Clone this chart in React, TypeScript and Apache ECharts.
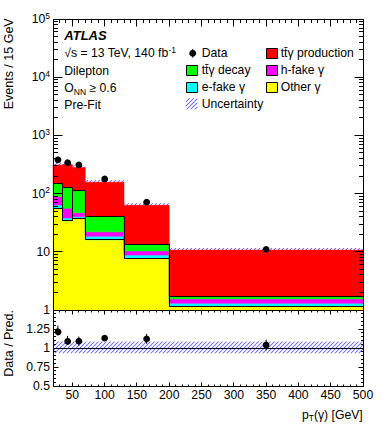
import React, { useEffect, useRef } from 'react';
import * as echarts from 'echarts';

const FONT = '"Liberation Sans", Arial, Helvetica, sans-serif';
const HATCH = '#5a5aff';

// ---- data ----
const binEdges = [20, 35, 50, 70, 130, 200, 500];
const otherGamma = [56, 34, 37.6, 16, 7.7, 1.16];
const eFakeGamma = [7.7, 3.9, 2.4, 2.5, 1.1, 0.14];
const hFakeGamma = [24.8, 18.3, 7.0, 3.5, 1.5, 0.25];
const ttgDecay = [61.5, 72, 65, 19, 3.2, 0.14];
const ttgProduction = [160, 187, 168, 116, 49.5, 9.0];
const dataValues = [393, 354, 310, 178, 71, 11.0];
const dataRelErrors = [0.05, 0.055, 0.055, 0.03, 0.06, 0.065];
const uncertaintyUp = [0.086, 0.086, 0.086, 0.086, 0.086, 0.086];
const uncertaintyDown = [0.068, 0.068, 0.068, 0.068, 0.068, 0.068];
const ratioValues = [1.23, 1.1, 1.09, 1.13, 1.12, 1.04];
const ratioErrors = [0.065, 0.06, 0.06, 0.035, 0.065, 0.07];
const xLabelValues = [50, 100, 150, 200, 250, 300, 350, 400, 450, 500];
const ratioLabelValues = [0.5, 0.75, 1, 1.25];
const stackNames = ['Other γ', 'e-fake γ', 'h-fake γ', 'tt̄γ decay', 'tt̄γ production'];
const stackColors = ['#ffff00', '#00ffff', '#ff00ff', '#00ff00', '#ff0000'];

const X_MIN = 20, X_MAX = 500;
const Y_MIN = 1, Y_MAX = 100000;
const R_MIN = 0.5, R_MAX = 1.5;

const sn = (v: number) => Math.round(v - 0.5) + 0.5;
const line = (x1: number, y1: number, x2: number, y2: number, stroke = '#000', lw = 1) => ({
  type: 'line', shape: { x1, y1, x2, y2 }, style: { stroke, lineWidth: lw },
});
// hatch "////" drawn as thin filled parallelograms, clipped to the rectangle
function hatch(x0: number, y0: number, x1: number, y1: number, s: number) {
  const out: any[] = [];
  const w = 0.6;
  const start = Math.ceil((x0 + y0) / s) * s;
  for (let c = start; c <= x1 + y1; c += s) {
    const xa = Math.max(x0, c - y1), xb = Math.min(x1, c - y0);
    if (xb > xa) {
      const ya = c - xa, yb = c - xb;
      out.push({
        type: 'polygon',
        shape: { points: [[xa - w, ya], [xa + w, ya], [xb + w, yb], [xb - w, yb]] },
        style: { fill: HATCH },
      });
    }
  }
  return out;
}

function buildOption() {
  const n = binEdges.length - 1;
  const binLow = binEdges.slice(0, -1);
  const binHigh = binEdges.slice(1);
  const binCenter = binLow.map((l, i) => (l + binHigh[i]) / 2);
  const comps = [otherGamma, eFakeGamma, hFakeGamma, ttgDecay, ttgProduction];
  const cum: number[][] = [];
  comps.forEach((arr, k) => cum.push(arr.map((v, i) => (k ? cum[k - 1][i] : 0) + v)));
  const prediction = cum[4];

  const bandMain = {
    type: 'custom', xAxisIndex: 0, yAxisIndex: 0, silent: true,
    encode: { x: [0, 1], y: [2, 3] },
    data: binLow.map((x0, i) => [x0, binHigh[i], prediction[i] * (1 - uncertaintyDown[i]), prediction[i] * (1 + uncertaintyUp[i])]),
    renderItem: (p: any, api: any) => {
      const a = api.coord([api.value(0), api.value(3)]);
      const b = api.coord([api.value(1), api.value(2)]);
      return { type: 'group', children: hatch(a[0], a[1], b[0], b[1], 4) };
    },
  };

  const stackSeries = comps.map((_, k) => ({
    type: 'custom', name: stackNames[k], xAxisIndex: 0, yAxisIndex: 0, silent: true,
    encode: { x: [0, 1], y: [2, 3] },
    data: binLow.map((x0, i) => [x0, binHigh[i], k ? cum[k - 1][i] : Y_MIN, cum[k][i]]),
    renderItem: (p: any, api: any) => {
      if (p.dataIndexInside !== 0) return null;
      const len = p.dataInsideLength;
      const top: number[][] = [], bottom: number[][] = [];
      for (let i = 0; i < len; i++) {
        const x0 = api.value(0, i), x1 = api.value(1, i);
        const lo = Math.max(api.value(2, i), Y_MIN), hi = api.value(3, i);
        top.push(api.coord([x0, hi]), api.coord([x1, hi]));
        bottom.push(api.coord([x0, lo]), api.coord([x1, lo]));
      }
      return { type: 'polygon', shape: { points: top.concat(bottom.reverse()) }, style: { fill: stackColors[k], stroke: stackColors[k], lineWidth: 0.5 } };
    },
  }));

  const outline = {
    type: 'custom', xAxisIndex: 0, yAxisIndex: 0, silent: true,
    data: [[X_MIN, Y_MIN]],
    renderItem: (p: any, api: any) => {
      const green = cum[3], yellow = cum[0];
      const ch: any[] = [];
      for (let i = 0; i < n; i++) {
        for (const v of [green[i], yellow[i]]) {
          const a = api.coord([binEdges[i], v]), b = api.coord([binEdges[i + 1], v]);
          ch.push(line(a[0], sn(a[1]), b[0], sn(b[1])));
        }
      }
      for (let j = 0; j <= n; j++) {
        const adj = [j - 1, j].filter((i) => i >= 0 && i < n);
        const tv = Math.max(...adj.map((i) => green[i]));
        const bv = Math.max(Y_MIN, Math.min(...adj.map((i) => yellow[i])));
        const a = api.coord([binEdges[j], tv]), b = api.coord([binEdges[j], bv]);
        ch.push(line(sn(a[0]), a[1], sn(b[0]), b[1]));
      }
      return { type: 'group', children: ch };
    },
  };

  const pointsRender = (p: any, api: any) => {
    const c = api.coord([api.value(0), api.value(1)]);
    const lo = api.coord([api.value(0), api.value(2)]);
    const hi = api.coord([api.value(0), api.value(3)]);
    return {
      type: 'group', children: [
        line(c[0], lo[1], c[0], hi[1]),
        { type: 'circle', shape: { cx: c[0], cy: c[1], r: 3.4 }, style: { fill: '#000' } },
      ],
    };
  };

  const dataMain = {
    type: 'custom', name: 'Data', xAxisIndex: 0, yAxisIndex: 0, silent: true,
    encode: { x: 0, y: [1, 2, 3] },
    data: binCenter.map((c, i) => [c, dataValues[i], dataValues[i] * (1 - dataRelErrors[i]), dataValues[i] * (1 + dataRelErrors[i])]),
    renderItem: pointsRender,
  };

  const frame = (g: number, yMin: number, yMax: number, xt: { v: number; len: number }[], yt: { v: number; len: number }[], bottom: boolean) => ({
    type: 'custom', xAxisIndex: g, yAxisIndex: g, silent: true,
    data: [[X_MIN, yMin]],
    renderItem: (p: any, api: any) => {
      const tl = api.coord([X_MIN, yMax]), br = api.coord([X_MAX, yMin]);
      const L = sn(tl[0]), T = sn(tl[1]), R = sn(br[0]), B = sn(br[1]);
      const ch: any[] = [];
      for (const t of xt) {
        const px = sn(api.coord([t.v, yMin])[0]);
        ch.push(line(px, T, px, T + t.len));
        if (bottom) ch.push(line(px, B, px, B - t.len));
      }
      for (const t of yt) {
        const py = sn(api.coord([X_MIN, t.v])[1]);
        ch.push(line(L, py, L + t.len, py));
        ch.push(line(R, py, R - t.len, py));
      }
      ch.push({ type: 'rect', shape: { x: L, y: T, width: R - L, height: B - T }, style: { fill: 'none', stroke: '#000', lineWidth: 1 } });
      return { type: 'group', children: ch };
    },
  });

  const xTicksMain: { v: number; len: number }[] = [];
  const xTicksRatio: { v: number; len: number }[] = [];
  for (let v = X_MIN; v <= X_MAX; v += 10) {
    xTicksMain.push({ v, len: v % 50 === 0 ? 7 : 3.5 });
    xTicksRatio.push({ v, len: v % 50 === 0 ? 4 : 2 });
  }
  const yTicksLog: { v: number; len: number }[] = [];
  for (let k = 0; k < 5; k++) for (let m = 1; m <= 9; m++) yTicksLog.push({ v: m * Math.pow(10, k), len: m === 1 ? 9 : 4.5 });
  yTicksLog.push({ v: Y_MAX, len: 9 });
  const yTicksRatio: { v: number; len: number }[] = [];
  for (let i = 0; i <= 20; i++) yTicksRatio.push({ v: R_MIN + i * 0.05, len: i % 5 === 0 ? 5 : 2.5 });

  const bandRatio = {
    type: 'custom', xAxisIndex: 1, yAxisIndex: 1, silent: true,
    encode: { x: [0, 1], y: [2, 3] },
    data: binLow.map((x0, i) => [x0, binHigh[i], 1 - uncertaintyDown[i], 1 + uncertaintyUp[i]]),
    renderItem: (p: any, api: any) => {
      const a = api.coord([api.value(0), api.value(3)]);
      const b = api.coord([api.value(1), api.value(2)]);
      return { type: 'group', children: hatch(a[0], a[1], b[0], b[1], 4) };
    },
  };
  const unity = {
    type: 'custom', xAxisIndex: 1, yAxisIndex: 1, silent: true,
    data: [[X_MIN, X_MAX, 1]],
    renderItem: (p: any, api: any) => {
      const a = api.coord([api.value(0), api.value(2)]), b = api.coord([api.value(1), api.value(2)]);
      return line(a[0], sn(a[1]), b[0], sn(b[1]));
    },
  };
  const dataRatio = {
    type: 'custom', xAxisIndex: 1, yAxisIndex: 1, silent: true,
    encode: { x: 0, y: [1, 2, 3] },
    data: binCenter.map((c, i) => [c, ratioValues[i], ratioValues[i] - ratioErrors[i], ratioValues[i] + ratioErrors[i]]),
    renderItem: pointsRender,
  };

  const baseRich = {
    a: { fontSize: 12.2, lineHeight: 16, fontFamily: FONT, color: '#000' },
    s: { fontSize: 8.5, lineHeight: 9, verticalAlign: 'top', fontFamily: FONT, color: '#000' },
    b: { fontSize: 8.5, lineHeight: 9, verticalAlign: 'bottom', fontFamily: FONT, color: '#000' },
  };
  const txt = (x: number, y: number, text: string, extra: any = {}) => ({
    type: 'text', x, y,
    style: { text, fill: '#000', fontSize: 12.2, fontFamily: FONT, align: 'left', verticalAlign: 'middle', ...extra },
  });
  const richTxt = (x: number, y: number, text: string, extra: any = {}) => ({
    type: 'text', x, y,
    style: { text, fill: '#000', fontFamily: FONT, align: 'left', verticalAlign: 'middle', rich: baseRich, ...extra },
  });

  const rows = [53.3, 70.3, 87.2, 103.8];
  const box = (x: number, yc: number, color: string) => ({
    type: 'rect', shape: { x: x + 0.5, y: Math.round(yc - 5.35) + 0.5, width: 11, height: 10 },
    style: { fill: color, stroke: '#000', lineWidth: 1 },
  });
  const c1 = 186, c2 = 266, t1 = 201.7, t2 = 280.7;
  const yTitle = txt(8.5, 18.3, 'Events / 15 GeV', { fontSize: 12.5, align: 'right', verticalAlign: 'middle' });
  const rTitle = txt(8.5, 310, 'Data / Pred.', { fontSize: 12.5, align: 'right', verticalAlign: 'middle' });
  (yTitle as any).rotation = Math.PI / 2;
  (rTitle as any).rotation = Math.PI / 2;
  const graphic: any[] = [
    txt(64.3, 35, 'ATLAS', { fontWeight: 'bold', fontStyle: 'italic', fontSize: 13 }),
    richTxt(64.3, 53, '{a|√s = 13 TeV, 140 fb}{s|-1}'),
    txt(64.3, 71, 'Dilepton'),
    richTxt(64.3, 88, '{a|O}{b|NN}{a| ≥ 0.6}'),
    txt(64.3, 105, 'Pre-Fit'),
    // legend
    line(192.7, 49, 192.7, 57.6),
    { type: 'circle', shape: { cx: 192.7, cy: rows[0], r: 3.4 }, style: { fill: '#000' } },
    txt(t1, rows[0], 'Data'),
    box(c2, rows[0], stackColors[4]),
    txt(t2, rows[0], stackNames[4]),
    box(c1, rows[1], stackColors[3]),
    txt(t1, rows[1], stackNames[3]),
    box(c2, rows[1], stackColors[2]),
    txt(t2, rows[1], stackNames[2]),
    box(c1, rows[2], stackColors[1]),
    txt(t1, rows[2], stackNames[1]),
    box(c2, rows[2], stackColors[0]),
    txt(t2, rows[2], stackNames[0]),
    ...hatch(186, 98.3, 197.3, 109.3, 4),
    txt(t1, rows[3], 'Uncertainty'),
    yTitle,
    rTitle,
    richTxt(362.7, 414.7, '{a|p}{b|T}{a|(γ) [GeV]}', { align: 'right' }),
  ];

  const hidden = { axisLine: { show: false }, axisTick: { show: false }, splitLine: { show: false }, minorTick: { show: false } };

  return {
    animation: false,
    backgroundColor: '#fff',
    textStyle: { fontFamily: FONT },
    grid: [
      { left: 53, top: 19, width: 310, height: 291 },
      { left: 53, top: 310, width: 310, height: 76 },
    ],
    xAxis: [
      { type: 'value', gridIndex: 0, min: X_MIN, max: X_MAX, interval: 10, ...hidden, axisLabel: { show: false } },
      {
        type: 'value', gridIndex: 1, min: X_MIN, max: X_MAX, interval: 10, ...hidden,
        axisLabel: {
          margin: 3, fontSize: 12.2, color: '#000', fontFamily: FONT,
          formatter: (v: number) => (xLabelValues.includes(v) ? String(v) : ''),
        },
      },
    ],
    yAxis: [
      {
        type: 'log', logBase: 10, gridIndex: 0, min: Y_MIN, max: Y_MAX, ...hidden,
        axisLabel: {
          margin: 3, color: '#000',
          formatter: (v: number) => {
            const e = Math.round(Math.log10(v));
            if (e === 0) return '{a|1}';
            if (e === 1) return '{a|10}';
            return '{a|10}{s|' + e + '}';
          },
          rich: baseRich,
        },
      },
      {
        type: 'value', gridIndex: 1, min: R_MIN, max: R_MAX, interval: 0.25, ...hidden,
        axisLabel: {
          margin: 3, fontSize: 12.2, color: '#000', fontFamily: FONT,
          formatter: (v: number) => (ratioLabelValues.includes(v) ? String(v) : ''),
        },
      },
    ],
    graphic,
    series: [
      bandMain,
      ...stackSeries,
      outline,
      dataMain,
      frame(0, Y_MIN, Y_MAX, xTicksMain, yTicksLog, false),
      bandRatio,
      unity,
      dataRatio,
      frame(1, R_MIN, R_MAX, xTicksRatio, yTicksRatio, true),
    ],
  };
}

export default function App() {
  const ref = useRef<HTMLDivElement>(null);
  useEffect(() => {
    if (!ref.current) return;
    const chart = echarts.init(ref.current, null, { renderer: 'svg' });
    chart.setOption(buildOption() as any);
    return () => chart.dispose();
  }, []);
  return (
    <div
      ref={ref}
      style={{ position: 'fixed', left: 0, top: 0, width: 382, height: 431, background: '#fff' }}
    />
  );
}
